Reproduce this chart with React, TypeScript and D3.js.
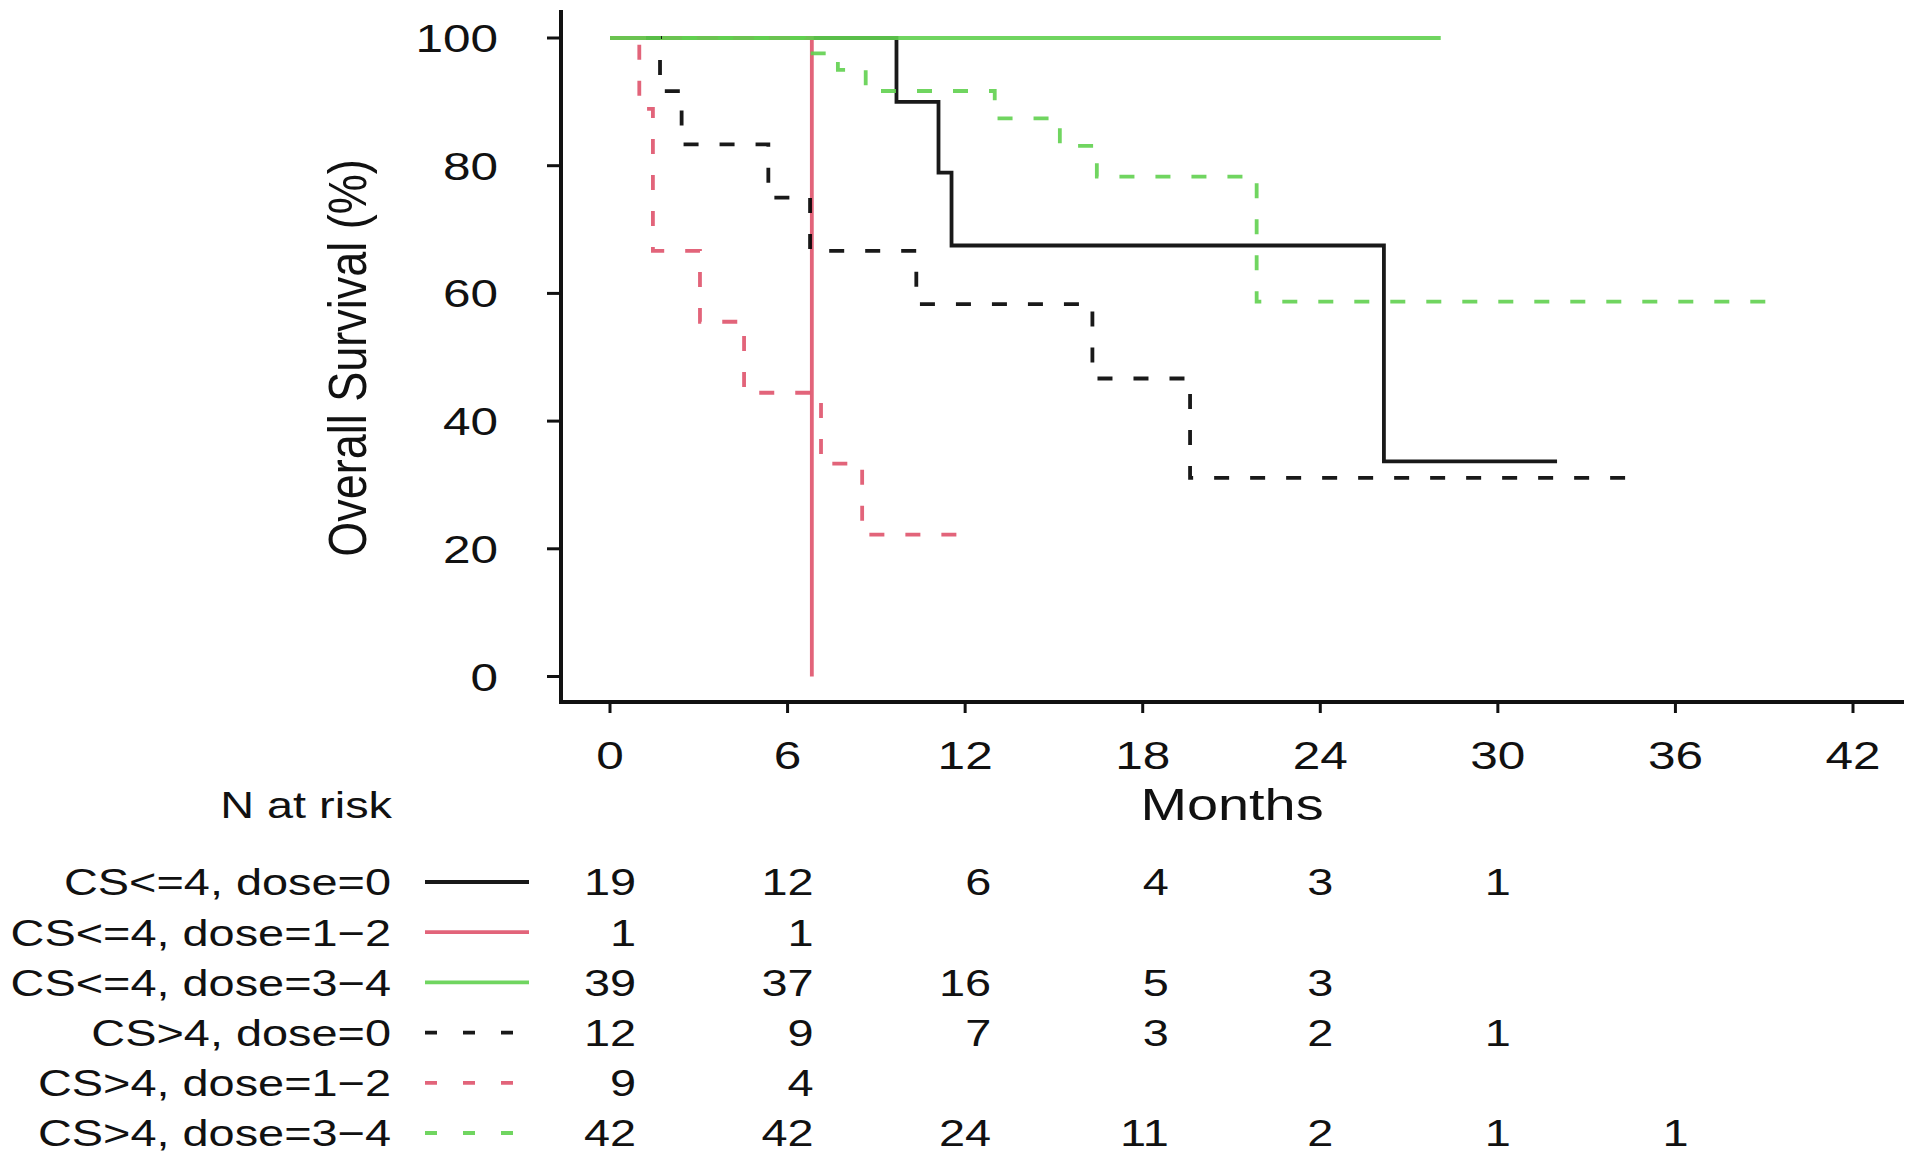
import React from "react";
import * as d3 from "d3";

// ---------- data ----------
const seriesLabels = [
  "CS<=4, dose=0",
  "CS<=4, dose=1\u22122",
  "CS<=4, dose=3\u22124",
  "CS>4, dose=0",
  "CS>4, dose=1\u22122",
  "CS>4, dose=3\u22124",
];
const seriesColors = ["#000000", "#DF536B", "#61D04F", "#000000", "#DF536B", "#61D04F"];
const seriesDashed = [false, false, false, true, true, true];

// step times (months) and survival (%) ; last entry = end of follow-up
const times1 = [0, 9.68, 11.1, 11.54, 26.15, 32.0];
const surv1 = [100, 90.0, 78.9, 67.5, 33.7, 33.7];
const times2 = [0, 6.82];
const surv2 = [100, 0];
const times3 = [0, 28.07];
const surv3 = [100, 100];
const times4 = [0, 1.69, 2.42, 5.35, 6.76, 10.35, 16.3, 19.6, 34.3];
const surv4 = [100, 91.67, 83.33, 75.0, 66.67, 58.33, 46.67, 31.11, 31.11];
const times5 = [0, 0.99, 1.45, 3.04, 4.53, 7.13, 8.52, 12.3];
const surv5 = [100, 88.89, 66.67, 55.56, 44.44, 33.33, 22.22, 22.22];
const times6 = [0, 6.57, 7.7, 8.64, 13.0, 15.2, 16.45, 21.85, 39.1];
const surv6 = [100, 97.6, 95.0, 91.7, 87.4, 83.1, 78.3, 58.7, 58.7];

const seriesTimes = [times1, times2, times3, times4, times5, times6];
const seriesSurv = [surv1, surv2, surv3, surv4, surv5, surv6];

const xTicks = [0, 6, 12, 18, 24, 30, 36, 42];
const yTicks = [0, 20, 40, 60, 80, 100];

const riskTimes = [0, 6, 12, 18, 24, 30, 36];
const risk1 = [19, 12, 6, 4, 3, 1, null];
const risk2 = [1, 1, null, null, null, null, null];
const risk3 = [39, 37, 16, 5, 3, null, null];
const risk4 = [12, 9, 7, 3, 2, 1, null];
const risk5 = [9, 4, null, null, null, null, null];
const risk6 = [42, 42, 24, 11, 2, 1, 1];
const riskTable = [risk1, risk2, risk3, risk4, risk5, risk6];

const xTitle = "Months";
const yTitle = "Overall Survival (%)";
const riskTitle = "N at risk";

// ---------- layout ----------
const W = 1920;
const H = 1157;
const SX = 1.27; // horizontal stretch of glyphs in the reference
const FONT = "'Liberation Sans', Arial, Helvetica, sans-serif";
const boxLeft = 561;
const boxTop = 10;
const boxRight = 1904;
const boxBottom = 702;

const x = d3.scaleLinear().domain([0, 42]).range([610, 1853]);
const y = d3.scaleLinear().domain([0, 100]).range([676.5, 38]);

const line = d3
  .line<[number, number]>()
  .x((d) => x(d[0]))
  .y((d) => y(d[1]))
  .curve(d3.curveStepAfter);

function Txt({ tx, ty, fs, anchor = "start", rotate = 0, sx = SX, children }: any) {
  return (
    <g transform={`translate(${tx},${ty}) scale(${sx},1)${rotate ? ` rotate(${rotate})` : ""}`}>
      <text fontSize={fs} textAnchor={anchor} fill="#111" fontFamily={FONT}>
        {children}
      </text>
    </g>
  );
}

export default function App() {
  const rowY = seriesLabels.map((_, i) => 882 + i * 50.2);
  const tabFs = 37.5;
  const tabSx = 1.25;
  const digitW = 0.556 * tabFs * tabSx;
  const colMax = riskTimes.map((_, j) =>
    d3.max(riskTable, (r) => (r[j] == null ? 0 : String(r[j]).length)) || 0
  );

  return (
    <svg
      width={W}
      height={H}
      style={{ position: "absolute", left: 0, top: 0, background: "#fff" }}
    >
      <rect x={0} y={0} width={W} height={H} fill="#fff" />

      {/* curves */}
      {seriesTimes.map((ts, i) => {
        const pts = ts.map((t, k) => [t, seriesSurv[i][k]] as [number, number]);
        return (
          <path
            key={i}
            d={line(pts) || ""}
            fill="none"
            stroke={seriesColors[i]}
            strokeWidth={3.8}
            strokeDasharray={seriesDashed[i] ? "15 21" : undefined}
            strokeOpacity={0.9}
          />
        );
      })}

      {/* box (L) */}
      <path
        d={`M${boxLeft},${boxTop} V${boxBottom} H${boxRight}`}
        fill="none"
        stroke="#111"
        strokeWidth={4}
      />

      {/* y ticks */}
      {yTicks.map((t) => (
        <g key={"y" + t}>
          <line x1={boxLeft - 14} x2={boxLeft} y1={y(t)} y2={y(t)} stroke="#111" strokeWidth={3} />
          <Txt tx={498} ty={y(t) + 14} fs={39} anchor="end">
            {t}
          </Txt>
        </g>
      ))}

      {/* x ticks */}
      {xTicks.map((t) => (
        <g key={"x" + t}>
          <line x1={x(t)} x2={x(t)} y1={boxBottom} y2={boxBottom + 11} stroke="#111" strokeWidth={3} />
          <Txt tx={x(t)} ty={769} fs={39} anchor="middle">
            {t}
          </Txt>
        </g>
      ))}

      {/* axis titles */}
      <Txt tx={1232} ty={820} fs={44} anchor="middle">
        {xTitle}
      </Txt>
      <Txt tx={366} ty={358} fs={45} anchor="middle" rotate={-90} sx={1.2}>
        {yTitle}
      </Txt>

      {/* risk table */}
      <Txt tx={392} ty={818} fs={tabFs} sx={tabSx} anchor="end">
        {riskTitle}
      </Txt>
      {seriesLabels.map((lab, i) => (
        <g key={"r" + i}>
          <Txt tx={391} ty={rowY[i] + 13.4} fs={tabFs} sx={tabSx} anchor="end">
            {lab}
          </Txt>
          <line
            x1={425}
            x2={529}
            y1={rowY[i]}
            y2={rowY[i]}
            stroke={seriesColors[i]}
            strokeWidth={3.8}
            strokeOpacity={0.9}
            strokeDasharray={seriesDashed[i] ? "12 26" : undefined}
          />
          {riskTable[i].map((v, j) =>
            v == null ? null : (
              <Txt
                key={j}
                tx={x(riskTimes[j]) + (colMax[j] * digitW) / 2}
                ty={rowY[i] + 13.4}
                fs={tabFs}
                sx={tabSx}
                anchor="end"
              >
                {v}
              </Txt>
            )
          )}
        </g>
      ))}
    </svg>
  );
}
